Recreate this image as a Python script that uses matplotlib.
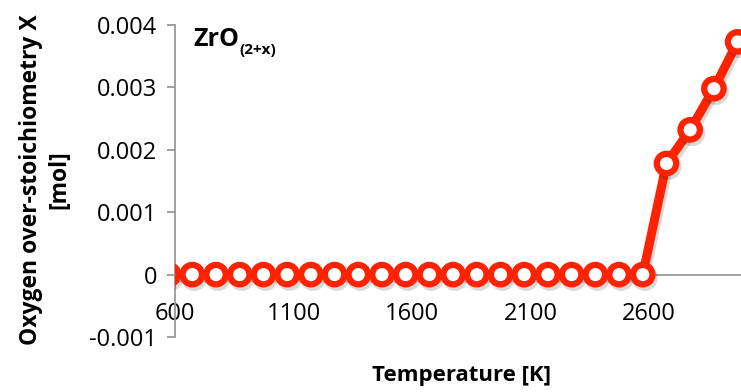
import matplotlib
matplotlib.use("Agg")
import matplotlib.pyplot as plt
import matplotlib.patheffects as pe

temperature_K = [573, 673, 773, 873, 973, 1073, 1173, 1273, 1373, 1473, 1573, 1673, 1773,
                 1873, 1973, 2073, 2173, 2273, 2373, 2473, 2573, 2673, 2773, 2873, 2973]
oxygen_x = [0, 0, 0, 0, 0, 0, 0, 0, 0, 0, 0, 0, 0,
            0, 0, 0, 0, 0, 0, 0, 0, 0.00178, 0.00232, 0.00298, 0.00373]
x_ticks = [600, 1100, 1600, 2100, 2600]
y_ticks = [-0.001, 0, 0.001, 0.002, 0.003, 0.004]
y_tick_labels = ["-0.001", "0", "0.001", "0.002", "0.003", "0.004"]

plt.rcParams['font.family'] = ['Open Sans', 'DejaVu Sans']

W, H = 741, 392
fig = plt.figure(figsize=(W / 100, H / 100), dpi=100)
ax = fig.add_axes([175 / W, 55 / H, (744 - 175) / W, 312 / H])
ax.set_xlim(600, 3000)
ax.set_ylim(-0.001, 0.004)

red = '#FF2200'
ax.plot(temperature_K, oxygen_x, color=red, lw=6.5, marker='o', markersize=14,
        markerfacecolor='white', markeredgecolor=red, markeredgewidth=4.5,
        solid_joinstyle='round', zorder=3, clip_on=True,
        path_effects=[pe.SimpleLineShadow(offset=(1.5, -2.5), shadow_color='black', alpha=0.15, rho=0.3),
                      pe.Normal()])

for s in ['top', 'right']:
    ax.spines[s].set_visible(False)
ax.spines['bottom'].set_position(('data', 0))
ax.spines['bottom'].set_color('#999999')
ax.spines['bottom'].set_linewidth(1.3)
ax.spines['bottom'].set_zorder(1)
ax.spines['left'].set_color('#999999')
ax.spines['left'].set_linewidth(1.3)

ax.set_xticks(x_ticks)
ax.set_xticklabels([str(v) for v in x_ticks])
ax.tick_params(axis='x', length=0, pad=20, labelsize=17, colors='black')
ax.set_yticks(y_ticks)
ax.set_yticklabels(y_tick_labels)
ax.tick_params(axis='y', length=6, width=1.3, color='#999999', labelsize=17, pad=7, labelcolor='black')

t = ax.text(193 / W, 1 - 40 / H, 'ZrO', transform=fig.transFigure, fontsize=18, fontweight='bold',
            va='center', ha='left')
ax.annotate('(2+x)', xy=(1.0, 0.1), xycoords=t, fontsize=11, fontweight='bold',
            va='center', ha='left')

fig.text(461 / W, 1 - 376 / H, 'Temperature [K]', fontsize=16, fontweight='bold',
         ha='center', va='center')
fig.text(45 / W, 1 - 180 / H, 'Oxygen over-stoichiometry X\n[mol]', fontsize=16.5,
         fontweight='bold', ha='center', va='center', rotation=90, linespacing=1.25)

fig.savefig('out.png', dpi=100)
